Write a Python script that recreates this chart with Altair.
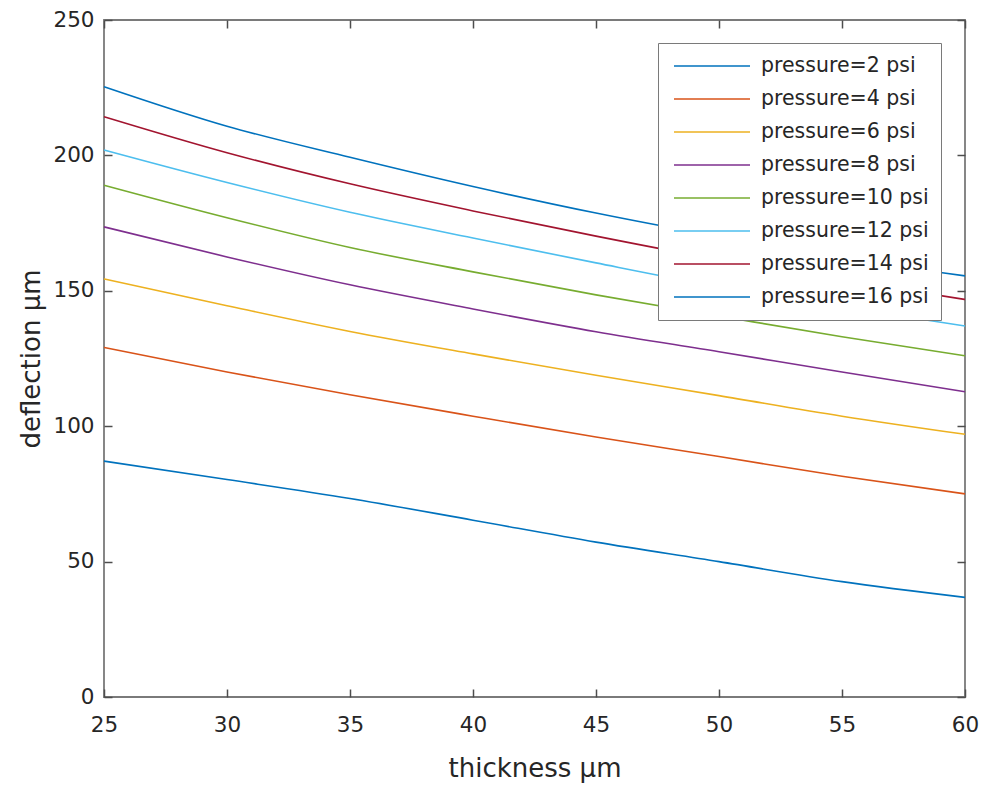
import altair as alt
import pandas as pd

# ---- data ----
thickness = [25, 30, 35, 40, 45, 50, 55, 60]
p2 = [87.1, 80.3, 73.3, 65.3, 57.2, 50.0, 42.6, 36.8]
p4 = [129.1, 120.0, 111.6, 103.7, 96.0, 88.8, 81.5, 75.0]
p6 = [154.4, 144.5, 135.0, 126.7, 118.8, 111.3, 103.7, 97.0]
p8 = [173.6, 162.5, 152.2, 143.3, 134.9, 127.5, 120.0, 112.7]
p10 = [189.0, 177.0, 166.0, 157.0, 148.5, 140.7, 133.0, 126.0]
p12 = [202.0, 190.0, 179.0, 169.5, 160.3, 151.5, 144.0, 137.0]
p14 = [214.3, 201.0, 189.5, 179.5, 170.2, 161.5, 154.0, 146.8]
p16 = [225.4, 210.8, 199.3, 188.5, 178.7, 170.0, 162.0, 155.5]

series_names = ["pressure=2 psi", "pressure=4 psi", "pressure=6 psi", "pressure=8 psi",
                "pressure=10 psi", "pressure=12 psi", "pressure=14 psi", "pressure=16 psi"]
series_vals = [p2, p4, p6, p8, p10, p12, p14, p16]
colors = ["#0072BD", "#D95319", "#EDB120", "#7E2F8E", "#77AC30", "#4DBEEE", "#A2142F", "#0072BD"]

x_ticks = [25, 30, 35, 40, 45, 50, 55, 60]
y_ticks = [0, 50, 100, 150, 200, 250]

rows = []
for name, vals in zip(series_names, series_vals):
    for t, v in zip(thickness, vals):
        rows.append({"thickness": t, "deflection": v, "series": name})
df = pd.DataFrame(rows)

FONT = "DejaVu Sans"
TXT = "#262626"
TICK = "#4d4d4d"

xs = alt.Scale(domain=[25, 60], nice=False, zero=False)
ys = alt.Scale(domain=[0, 250], nice=False, zero=False)

lines = alt.Chart(df).mark_line(strokeWidth=1.6, interpolate="monotone").encode(
    x=alt.X("thickness:Q", scale=xs,
            axis=alt.Axis(orient="bottom", title="thickness μm", values=x_ticks,
                          offset=-8, tickSize=8, domain=False, grid=False, labelFlush=False,
                          labelPadding=17, titlePadding=20)),
    y=alt.Y("deflection:Q", scale=ys,
            axis=alt.Axis(orient="left", title="deflection μm", values=y_ticks,
                          offset=-8, tickSize=8, domain=False, grid=False, labelFlush=False,
                          labelPadding=10, titlePadding=8)),
    color=alt.Color("series:N", scale=alt.Scale(domain=series_names, range=colors),
                    legend=alt.Legend(title=None, orient="none", legendX=554, legendY=23,
                                      symbolType="M-3.8,0H3.8", symbolSize=400,
                                      symbolStrokeWidth=1.6, labelFontSize=20.5,
                                      labelFont=FONT, labelColor=TXT, labelLimit=400,
                                      rowPadding=11, padding=12,
                                      symbolOffset=31, labelOffset=38,
                                      fillColor="white", strokeColor="#7a7a7a")),
    order=alt.Order("thickness:Q"),
)

frame = alt.Chart(df).mark_line(opacity=0).encode(
    x=alt.X("thickness:Q", scale=xs,
            axis=alt.Axis(orient="top", title=None, values=x_ticks, labels=False,
                          offset=-8, tickSize=8, domain=False, grid=False)),
    y=alt.Y("deflection:Q", scale=ys,
            axis=alt.Axis(orient="right", title=None, values=y_ticks, labels=False,
                          offset=-8, tickSize=8, domain=False, grid=False)),
    detail="series:N",
)

chart = alt.layer(lines, frame).resolve_scale(x="independent", y="independent").properties(
    width=861, height=677,
    autosize=alt.AutoSizeParams(type="none"),
    padding={"left": 104, "top": 20, "right": 17, "bottom": 88},
    background="white",
).configure_view(
    stroke="#7a7a7a", strokeWidth=1.8
).configure_axis(
    labelFont=FONT, labelFontSize=21.5, labelColor=TXT,
    titleFont=FONT, titleFontSize=26, titleColor=TXT, titleFontWeight="normal",
    tickColor=TICK, tickWidth=1.5,
)

chart.save("out.html", embed_options={"renderer": "svg", "actions": False})
